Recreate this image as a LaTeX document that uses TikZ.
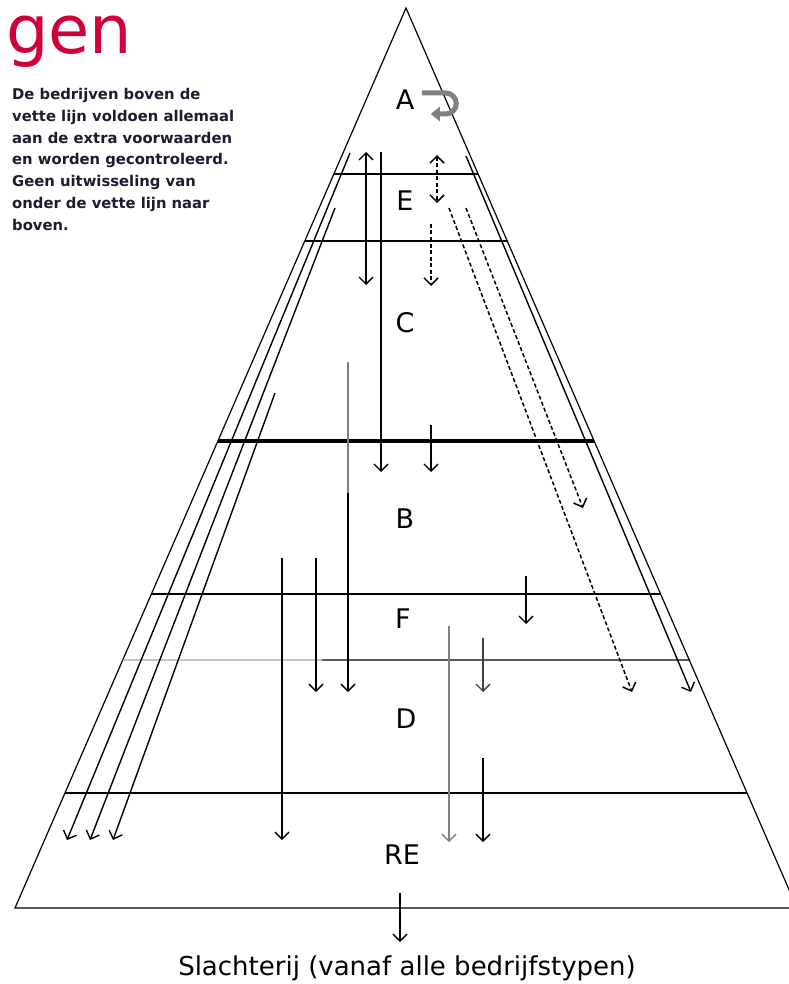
\documentclass[tikz,border=0pt]{standalone}
\usepackage{fontspec}
\setmainfont{DejaVu Sans}
\usepackage{xcolor}
\usepackage{tikz}
\usetikzlibrary{arrows.meta, calc}

\definecolor{rood}{RGB}{208,0,56}
\definecolor{inkt}{RGB}{28,28,48}
\tikzset{
  >={Straight Barb[length=7pt,width=14pt]},
  lijn/.style={line width=1.2pt},
  pijl/.style={line width=1.4pt, ->},
  stip/.style={line width=1.5pt, dash pattern=on 4pt off 2.5pt},
  laag/.style={font=\fontsize{27}{27}\selectfont},
}

\begin{document}
\begin{tikzpicture}[x=1pt,y=-1pt]
  \useasboundingbox (0,0) rectangle (788,984);

  % piramide
  \coordinate (top) at (406,8);
  \coordinate (lo) at (15,908);
  \coordinate (ro) at (797,908);
  \draw[lijn] (ro) -- (top) -- (lo) -- (ro);
  \foreach \h in {174,241,594,793}
    \draw[lijn] ($(top)!{(\h-8)/900}!(lo)$) -- ($(top)!{(\h-8)/900}!(ro)$);
  \draw[lijn, gray!70] ($(top)!{652/900}!(lo)$) -- (322,660);
  \draw[lijn] (322,660) -- ($(top)!{652/900}!(ro)$);
  % de vette lijn
  \draw[line width=4pt] ($(top)!{433/900}!(lo)$) -- ($(top)!{433/900}!(ro)$);

  % bedrijfstypen
  \node[laag] (A) at (405,100) {A};
  \node[laag] (E) at (405,201) {E};
  \node[laag] (C) at (405,323) {C};
  \node[laag] (B) at (405,519) {B};
  \node[laag] (F) at (403,619) {F};
  \node[laag] (D) at (406,719) {D};
  \node[laag] (RE) at (402,855) {RE};
  \node[font=\fontsize{26}{26}\selectfont] (slacht) at (407,968) {Slachterij (vanaf alle bedrijfstypen)};

  \node[text=rood, font=\fontsize{67}{67}\selectfont, anchor=base west, inner sep=0pt] (gen) at (6,54) {gen};
  \node[text=inkt, font=\bfseries\fontsize{14.8}{21.8}\selectfont, align=left, anchor=north west, inner sep=0pt] (uitleg) at (12,88)
    {De bedrijven boven de\\vette lijn voldoen allemaal\\aan de extra voorwaarden\\en worden gecontroleerd.\\Geen uitwisseling van\\onder de vette lijn naar\\boven.};

  % A blijft A
  \draw[gray, line width=5pt, -{Triangle[length=9pt,width=14pt]}] ($(A.east)+(4,-7)$) -- ++(24,0)
    arc[start angle=-90, end angle=90, radius=10.5] -- ++(-15,0);

  % verticale pijlen
  \coordinate (p1) at (366,152); \coordinate (q1) at (366,285);
  \coordinate (p2) at (381,152); \coordinate (q2) at (381,472);
  \coordinate (p3) at (437,155); \coordinate (q3) at (437,203);
  \coordinate (p4) at (431,224); \coordinate (q4) at (431,286);
  \coordinate (p5) at (431,425); \coordinate (q5) at (431,472);
  \coordinate (p6) at (348,362); \coordinate (m6) at (348,493); \coordinate (q6) at (348,692);
  \coordinate (p7) at (316,558); \coordinate (q7) at (316,692);
  \coordinate (p8) at (282,558); \coordinate (q8) at (282,840);
  \coordinate (p9) at (526,576); \coordinate (q9) at (526,624);
  \coordinate (p10) at (449,626); \coordinate (q10) at (449,842);
  \coordinate (p11) at (483,638); \coordinate (q11) at (483,692);
  \coordinate (p12) at (483,758); \coordinate (q12) at (483,842);
  \coordinate (p13) at (400,893); \coordinate (q13) at (400,942);
  \draw[pijl, <->] (p1) -- (q1);
  \draw[pijl] (p2) -- (q2);
  \draw[stip, <->] (p3) -- (q3);
  \draw[stip, ->] (p4) -- (q4);
  \draw[pijl] (p5) -- (q5);
  \draw[lijn, gray] (p6) -- (m6);
  \draw[pijl] (m6) -- (q6);
  \draw[pijl] (p7) -- (q7);
  \draw[pijl] (p8) -- (q8);
  \draw[pijl] (p9) -- (q9);
  \draw[pijl, gray] (p10) -- (q10);
  \draw[pijl, black!75] (p11) -- (q11);
  \draw[pijl] (p12) -- (q12);
  \draw[pijl] (p13) -- (q13);

  % schuine pijlen links
  \coordinate (l1) at (350,153); \coordinate (k1) at (67,840);
  \coordinate (l2) at (335,208); \coordinate (k2) at (90,840);
  \coordinate (l3) at (275,393); \coordinate (k3) at (113,840);
  \foreach \i in {1,2,3}
    \draw[pijl] (l\i) -- (k\i);

  % schuine pijlen rechts
  \coordinate (r1) at (466,156); \coordinate (s1) at (691,692);
  \coordinate (r2) at (449,208); \coordinate (s2) at (632,692);
  \coordinate (r3) at (466,208); \coordinate (s3) at (583,508);
  \draw[pijl] (r1) -- (s1);
  \draw[stip, ->] (r2) -- (s2);
  \draw[stip, ->] (r3) -- (s3);
\end{tikzpicture}
\end{document}
